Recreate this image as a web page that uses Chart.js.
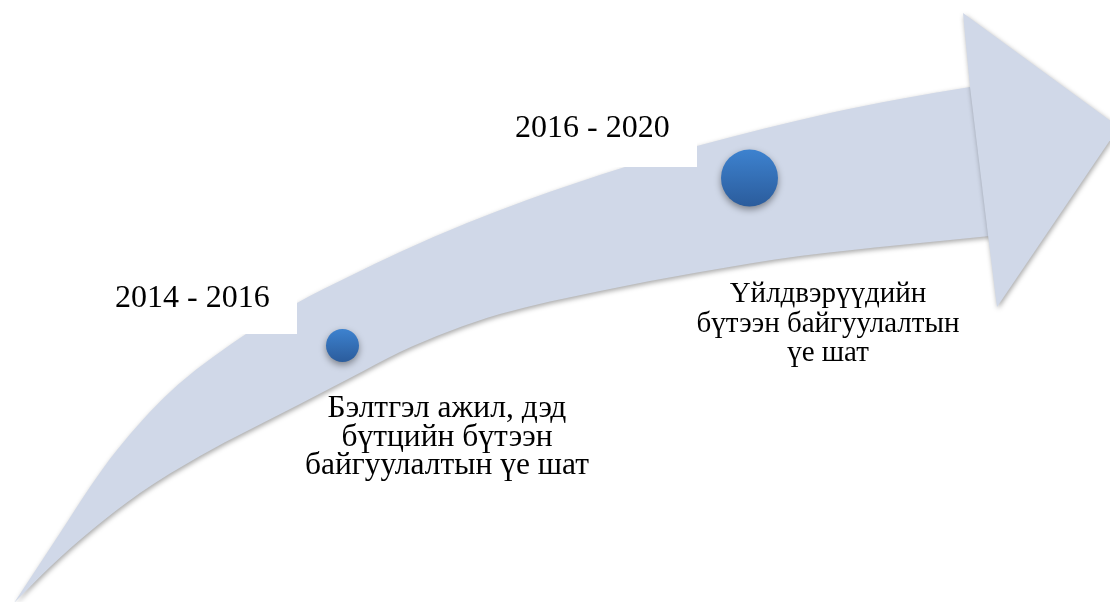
<!DOCTYPE html>
<html>
<head>
<meta charset="utf-8">
<script src="https://cdn.jsdelivr.net/npm/chart.js@4.4.1/dist/chart.umd.min.js"></script>
<style>
  html, body { margin: 0; padding: 0; background: #fff; }
  canvas { display: block; }
</style>
</head>
<body>
<canvas id="timeline" width="1110" height="602"></canvas>
<script>
// Arrow outline (page pixels, y grows downwards)
const upperX = [14, 37, 60, 90, 117, 170, 240, 297, 350, 400, 467, 527, 625, 697, 830, 900, 970, 990];
const upperY = [603, 568, 533, 487, 450, 392, 338, 303, 276, 252, 223, 200, 167, 146, 113, 99, 87, 84];
const lowerX = [14, 50, 93, 140, 200, 300, 350, 400, 450, 500, 600, 700, 800, 900, 990];
const lowerY = [603, 567, 529, 493, 456, 404, 378, 352, 331, 314, 291, 272, 256, 245, 236];
const headX = [970, 963, 1119, 997, 988];
const headY = [87, 13, 127, 307, 235];

// White label boxes that sit on top of the arrow
const box1X = [100, 297, 297, 100];
const box1Y = [255, 255, 334, 334];
const box2X = [500, 697, 697, 500];
const box2Y = [90, 90, 167, 167];

// Milestones
const stageX = [342.5, 749.5];
const stageY = [345.5, 178];
const periodLabels = ['2014 - 2016', '2016 - 2020'];
const stageLabels = [
  ['Бэлтгэл ажил, дэд', 'бүтцийн бүтээн', 'байгуулалтын үе шат'],
  ['Үйлдвэрүүдийн', 'бүтээн байгуулалтын', 'үе шат']
];

const ARROW = '#d0d8e8';
const stageRadius = [16.5, 28.5];

function toPoints(xs, ys) {
  return xs.map((x, i) => ({ x, y: ys[i] }));
}

function applyShadow(chart, i) {
  const ctx = chart.ctx;
  const ds = chart.data.datasets[i];
  const s = ds && ds.shadow;
  ctx.shadowColor = s ? s.color : 'rgba(0,0,0,0)';
  ctx.shadowBlur = s ? s.blur : 0;
  ctx.shadowOffsetX = s ? s.x : 0;
  ctx.shadowOffsetY = s ? s.y : 0;
}

// datasets are drawn last-to-first, so set the shadow for the next one up
const shadowPlugin = {
  id: 'softShadow',
  beforeDatasetsDraw(chart) { applyShadow(chart, chart.data.datasets.length - 1); },
  beforeDatasetDraw(chart, args) { applyShadow(chart, args.index); },
  afterDatasetDraw(chart, args) { applyShadow(chart, args.index - 1); },
  afterDatasetsDraw(chart) { applyShadow(chart, -1); }
};

const labelPlugin = {
  id: 'stageLabels',
  afterDraw(chart, args, opts) {
    const { ctx, scales } = chart;
    ctx.save();
    ctx.fillStyle = '#000';
    ctx.textBaseline = 'alphabetic';

    ctx.font = opts.periodFont;
    ctx.textAlign = 'left';
    periodLabels.forEach((txt, i) => {
      const at = opts.periodAt[i];
      ctx.fillText(txt, scales.x.getPixelForValue(at[0]), scales.y.getPixelForValue(at[1]));
    });

    ctx.textAlign = 'center';
    stageLabels.forEach((lines, i) => {
      const blk = opts.stages[i];
      ctx.font = blk.font;
      lines.forEach((line, j) => {
        ctx.fillText(line, scales.x.getPixelForValue(blk.x),
          scales.y.getPixelForValue(blk.y + j * blk.lineHeight));
      });
    });
    ctx.restore();
  }
};

const arrowShadow = { color: 'rgba(0,0,0,0.35)', blur: 5, x: 1, y: 2 };

new Chart(document.getElementById('timeline'), {
  type: 'scatter',
  data: {
    datasets: [
      {
        // milestones
        data: toPoints(stageX, stageY),
        pointRadius: stageRadius,
        pointHoverRadius: stageRadius,
        pointBorderWidth: 0,
        backgroundColor: (c) => {
          const chart = c.chart;
          if (c.type !== 'data' || !chart.chartArea) return '#3470b8';
          const r = stageRadius[c.dataIndex];
          const py = chart.scales.y.getPixelForValue(stageY[c.dataIndex]);
          if (!isFinite(py)) return '#3470b8';
          const g = chart.ctx.createLinearGradient(0, py - r, 0, py + r);
          g.addColorStop(0, '#3d82cf');
          g.addColorStop(1, '#2b5c9c');
          return g;
        },
        shadow: { color: 'rgba(0,0,0,0.4)', blur: 7, x: 0, y: 3 }
      },
      {
        data: toPoints(box1X, box1Y),
        showLine: true, borderWidth: 0, pointRadius: 0,
        fill: 'shape', backgroundColor: '#fff'
      },
      {
        data: toPoints(box2X, box2Y),
        showLine: true, borderWidth: 0, pointRadius: 0,
        fill: 'shape', backgroundColor: '#fff'
      },
      {
        // arrow head
        data: toPoints(headX, headY),
        showLine: true, borderWidth: 0, pointRadius: 0, tension: 0,
        fill: 'shape', backgroundColor: ARROW,
        shadow: arrowShadow
      },
      {
        // shaft, upper edge, filled down to the lower edge
        data: toPoints(upperX, upperY),
        showLine: true, borderWidth: 0, pointRadius: 0,
        cubicInterpolationMode: 'monotone',
        fill: '+1', backgroundColor: ARROW,
        shadow: arrowShadow
      },
      {
        data: toPoints(lowerX, lowerY),
        showLine: true, borderWidth: 0, pointRadius: 0,
        cubicInterpolationMode: 'monotone',
        fill: false
      }
    ]
  },
  options: {
    responsive: false,
    animation: false,
    events: [],
    layout: { padding: 0, autoPadding: false },
    scales: {
      x: { type: 'linear', min: 0, max: 1110, display: false },
      y: { type: 'linear', min: 0, max: 602, reverse: true, display: false }
    },
    plugins: {
      legend: { display: false },
      tooltip: { enabled: false },
      stageLabels: {
        periodFont: '32px "Liberation Serif", "Times New Roman", serif',
        periodAt: [[115, 307], [515, 137]],
        stages: [
          { x: 447, y: 417, lineHeight: 28.5, font: '31.5px "Liberation Serif", "Times New Roman", serif' },
          { x: 828, y: 302, lineHeight: 29.7, font: '29px "Liberation Serif", "Times New Roman", serif' }
        ]
      }
    }
  },
  plugins: [shadowPlugin, labelPlugin]
});
</script>
</body>
</html>
